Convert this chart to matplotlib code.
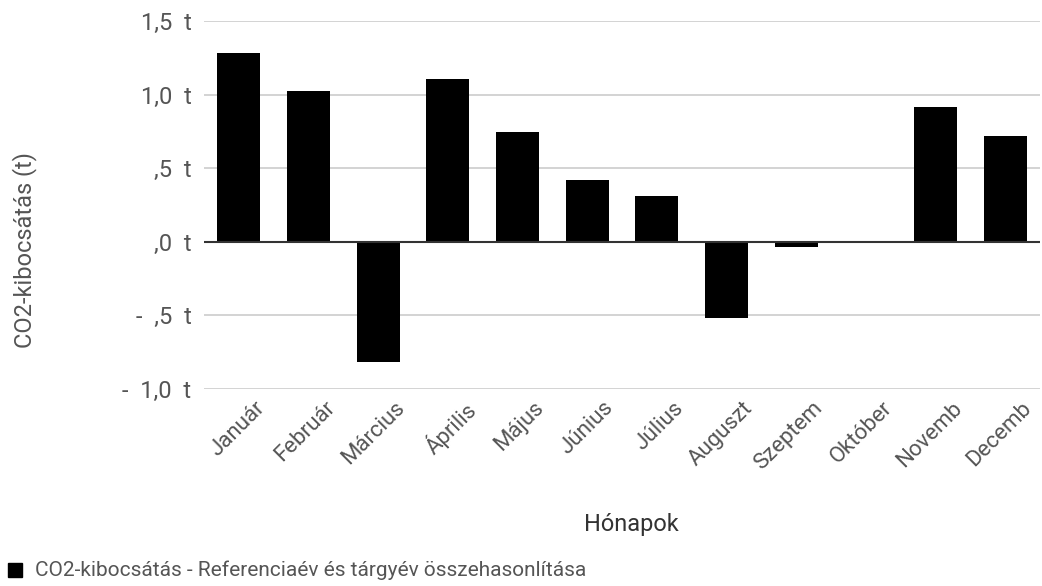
import matplotlib
matplotlib.use("Agg")
import matplotlib.pyplot as plt
from matplotlib.patches import Rectangle
from matplotlib.transforms import ScaledTranslation

months = ["Január", "Február", "Március", "Április", "Május", "Június",
          "Július", "Auguszt", "Szeptem", "Október", "Novemb", "Decemb"]
values = [1.286, 1.027, -0.816, 1.109, 0.748, 0.42, 0.313, -0.517, -0.035, -0.008, 0.918, 0.72]
yticks = [-1.0, -0.5, 0.0, 0.5, 1.0, 1.5]
ytick_labels = ["-  1,0  t", "-  ,5  t", ",0  t", ",5  t", "1,0  t", "1,5  t"]
series_name = "CO2-kibocsátás - Referenciaév és tárgyév összehasonlítása"
x_title = "Hónapok"
y_title = "CO2-kibocsátás (t)"

plt.rcParams['font.family'] = ['Roboto', 'DejaVu Sans']

fig = plt.figure(figsize=(10.42, 5.86), dpi=100)
ax = fig.add_axes([204/1042, 1-389/586, 836/1042, 368/586])

x = list(range(len(months)))
ax.bar(x, values, width=0.62, color="black", zorder=3)
ax.set_xlim(-0.5, len(months)-0.5)
ax.set_ylim(-1.0, 1.5)

ax.set_yticks(yticks)
ax.set_yticklabels(ytick_labels)
ax.yaxis.grid(True, color="#cccccc", linewidth=1.2, zorder=0)
ax.axhline(0, color="#333333", linewidth=1.5, zorder=4)
for s in ax.spines.values():
    s.set_visible(False)
ax.tick_params(axis='y', length=0, pad=9, labelsize=17, labelcolor="#555555")
ax.tick_params(axis='x', length=0, pad=6, labelsize=16, labelcolor="#555555")

ax.set_xticks(x)
ax.set_xticklabels(months, rotation=45, ha='right', rotation_mode='anchor')
off = ScaledTranslation(16/100, 0, fig.dpi_scale_trans)
for lab in ax.get_xticklabels():
    lab.set_transform(lab.get_transform() + off)

fig.text(631/1042, 1-524/586, x_title, ha='center', va='center', fontsize=17, color="#333333")
fig.text(25/1042, 1-250/586, y_title, ha='center', va='center', rotation=90, fontsize=17, color="#555555")

fig.patches.append(Rectangle((8/1042, 1-577/586), 14/1042, 14/586, transform=fig.transFigure,
                             color="black", figure=fig))
fig.text(35/1042, 1-570/586, series_name, ha='left', va='center', fontsize=15, color="#555555")

fig.savefig("out.png", dpi=100)
